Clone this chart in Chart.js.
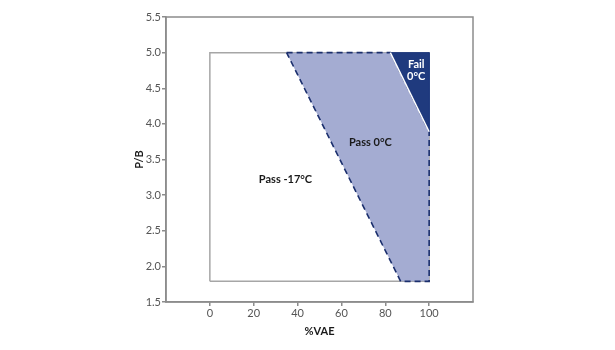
<!DOCTYPE html>
<html>
<head>
<meta charset="utf-8">
<script src="https://cdn.jsdelivr.net/npm/chart.js@4/dist/chart.umd.min.js"></script>
<style>
  html, body { margin: 0; padding: 0; background: #fff; }
  canvas { display: block; }
</style>
</head>
<body>
<canvas id="vaeChart" width="615" height="350"></canvas>
<script>
// axis ticks
const xTicks = [0, 20, 40, 60, 80, 100];
const yTicks = [1.5, 2.0, 2.5, 3.0, 3.5, 4.0, 4.5, 5.0, 5.5];

// Pass -17°C box (%VAE, P/B)
const boxVae = [0, 0, 100, 100, 0];
const boxPb = [1.79, 5.0, 5.0, 1.79, 1.79];

// Pass 0°C zone
const pass0Vae = [35, 82.3, 100, 100, 87, 35];
const pass0Pb = [5.0, 5.0, 3.89, 1.79, 1.79, 5.0];

// Fail 0°C corner
const failVae = [82.3, 100, 100, 82.3];
const failPb = [5.0, 5.0, 3.89, 5.0];

// zone captions: text lines and where they sit
const zoneText = [['Pass -17°C'], ['Pass 0°C'], ['Fail', '0°C']];
const zoneVae = [34.5, 73.2, 94.1];
const zonePb = [3.22, 3.745, 4.75];

const colors = {
  axis: '#8c8c8c',
  box: '#a6a6a6',
  tick: '#555555',
  light: '#a4acd2',
  dark: '#1f3a7e',
  dash: '#1b2f6d',
  text: '#1a1a1a',
};

const pts = (xs, ys) => xs.map((x, i) => ({ x, y: ys[i] }));

// top/right frame around the plot
const framePlugin = {
  id: 'frame',
  afterDatasetsDraw(chart) {
    const { ctx, chartArea: a } = chart;
    ctx.save();
    ctx.strokeStyle = colors.axis;
    ctx.lineWidth = 1.5;
    ctx.strokeRect(a.left, a.top, a.right - a.left, a.bottom - a.top);
    ctx.restore();
  },
};

const zoneLabels = {
  id: 'zoneLabels',
  afterDatasetsDraw(chart) {
    const { ctx, scales } = chart;
    ctx.save();
    ctx.font = 'bold 11px Lato';
    ctx.textAlign = 'center';
    ctx.textBaseline = 'middle';
    zoneText.forEach((lines, i) => {
      const px = scales.x.getPixelForValue(zoneVae[i]);
      const py = scales.y.getPixelForValue(zonePb[i]);
      ctx.fillStyle = i === 2 ? '#ffffff' : colors.text;
      const h = 12;
      lines.forEach((t, j) => {
        ctx.fillText(t, px, py + (j - (lines.length - 1) / 2) * h);
      });
    });
    ctx.restore();
  },
};

new Chart(document.getElementById('vaeChart'), {
  type: 'scatter',
  data: {
    datasets: [
      {
        data: pts(failVae, failPb),
        showLine: true,
        fill: 'shape',
        backgroundColor: colors.dark,
        borderColor: colors.dark,
        borderWidth: 1,
        pointRadius: 0,
        order: 2,
      },
      {
        // white seam on the fail diagonal
        data: pts(failVae.slice(0, 1).concat(failVae[2]), failPb.slice(0, 1).concat(failPb[2])),
        showLine: true,
        fill: false,
        borderColor: '#ffffff',
        borderWidth: 1.5,
        pointRadius: 0,
        order: 1,
      },
      {
        data: pts(pass0Vae, pass0Pb),
        showLine: true,
        fill: 'shape',
        backgroundColor: colors.light,
        borderColor: colors.dash,
        borderWidth: 1.6,
        borderDash: [6, 4],
        pointRadius: 0,
        order: 3,
      },
      {
        data: pts(boxVae, boxPb),
        showLine: true,
        fill: false,
        borderColor: colors.box,
        borderWidth: 1.5,
        pointRadius: 0,
        order: 4,
      },
    ],
  },
  options: {
    responsive: false,
    animation: false,
    layout: { padding: { left: 0, right: 142, top: 17, bottom: 0 } },
    plugins: { legend: { display: false }, tooltip: { enabled: false } },
    scales: {
      x: {
        type: 'linear',
        min: -20,
        max: 120,
        afterBuildTicks: (s) => { s.ticks = xTicks.map((v) => ({ value: v })); },
        afterFit: (s) => { s.height = 48; },
        grid: { display: true, drawOnChartArea: false, tickLength: 4, color: colors.axis, lineWidth: 1.5 },
        border: { color: colors.axis, width: 1.5 },
        ticks: { color: colors.tick, font: { family: 'Lato', size: 11 }, padding: 1, maxRotation: 0 },
        title: { display: true, text: '%VAE', color: colors.text, font: { family: 'Lato', size: 11, weight: 'bold' }, padding: { top: 0, bottom: 12 } },
      },
      y: {
        type: 'linear',
        min: 1.5,
        max: 5.5,
        afterBuildTicks: (s) => { s.ticks = yTicks.map((v) => ({ value: v })); },
        afterFit: (s) => { s.width = 166; },
        grid: { display: true, drawOnChartArea: false, tickLength: 4, color: colors.axis, lineWidth: 1.5 },
        border: { color: colors.axis, width: 1.5 },
        ticks: { color: colors.tick, font: { family: 'Lato', size: 11 }, padding: 1, callback: (v) => Number(v).toFixed(1) },
        title: { display: true, text: 'P/B', color: colors.text, font: { family: 'Lato', size: 11, weight: 'bold' }, padding: { top: 133, bottom: 0 } },
      },
    },
  },
  plugins: [framePlugin, zoneLabels],
});
</script>
</body>
</html>
